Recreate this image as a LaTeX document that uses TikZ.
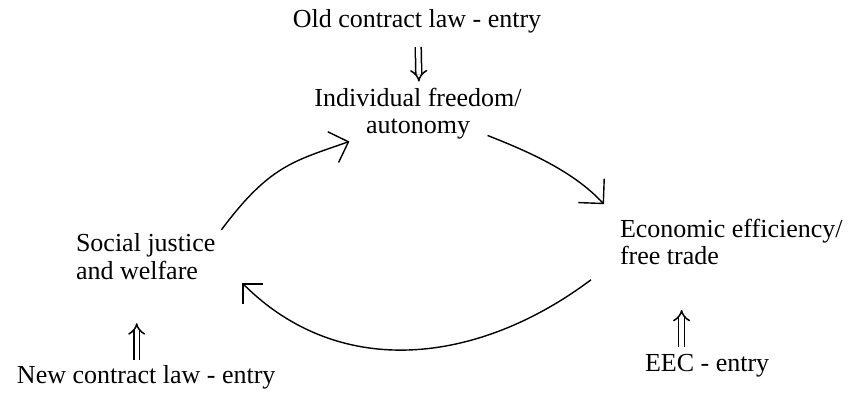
\documentclass[tikz,border=0pt]{standalone}
\usepackage{fontspec}
\setmainfont{Liberation Serif}
\usetikzlibrary{arrows.meta,calc}
\begin{document}
\begin{tikzpicture}[x=0.5pt,y=-0.5pt,
  lbl/.style={inner sep=0pt, outer sep=0pt, font=\fontsize{13}{13.5}\selectfont},
  cyc/.style={line width=0.7pt},
  dbl/.style={double, double distance=2.2pt, line width=0.75pt, -{Implies}}]
\useasboundingbox (0,0) rectangle (864,392);

\node[lbl, anchor=base] (old) at (417,27) {Old contract law - entry};
\node[lbl, align=center, font=\fontsize{13}{13.5}\selectfont] (ind) at (418,114) {Individual freedom/\\autonomy};
\node[lbl, align=left, anchor=west, font=\fontsize{13}{14}\selectfont] (social) at (76,257) {Social justice\\and welfare};
\node[lbl, align=left, anchor=west, font=\fontsize{13}{13.5}\selectfont] (econ) at (620,242) {Economic efficiency/\\free trade};
\node[lbl, anchor=base west] (newc) at (17,383) {New contract law - entry};
\node[lbl, anchor=base west] (eec) at (645,371) {EEC - entry};

% entry arrows
\draw[dbl, shorten <=7.2pt, shorten >=3.5pt] ([xshift=0.5pt]old.south) -- ([xshift=0.5pt]ind.north);
\draw[dbl, shorten <=2.5pt, shorten >=21.5pt] ($(newc.north)+(-9.5,0)$) -- ($(newc.north |- social.south)+(-9.5,0)$);
\draw[dbl, shorten <=3.5pt, shorten >=22.5pt] ($(eec.north)+(-25.5,0)$) -- ($(eec.north |- econ.south)+(-25.5,0)$);

% cycle
\draw[cyc, -{Straight Barb[length=8.1pt,width=16.3pt]}]
  ($(social.north east)+(6,-4)$) .. controls +(48,-64) and +(-57,20) .. ($(ind.south west)+(35,2)$);
\draw[cyc, -{Straight Barb[length=8.8pt,width=17.6pt]}]
  ($(ind.south east)+(-34,-4)$) .. controls +(42,16.6) and +(-30.6,-32.9) .. ($(econ.north west)+(-16,-15)$);
\draw[cyc, -{Straight Barb[length=7pt,width=14pt]}]
  ($(econ.south west)+(-29,15)$) .. controls +(-112,84) and +(98,98) .. ($(social.south east)+(27,3)$);
\end{tikzpicture}
\end{document}
